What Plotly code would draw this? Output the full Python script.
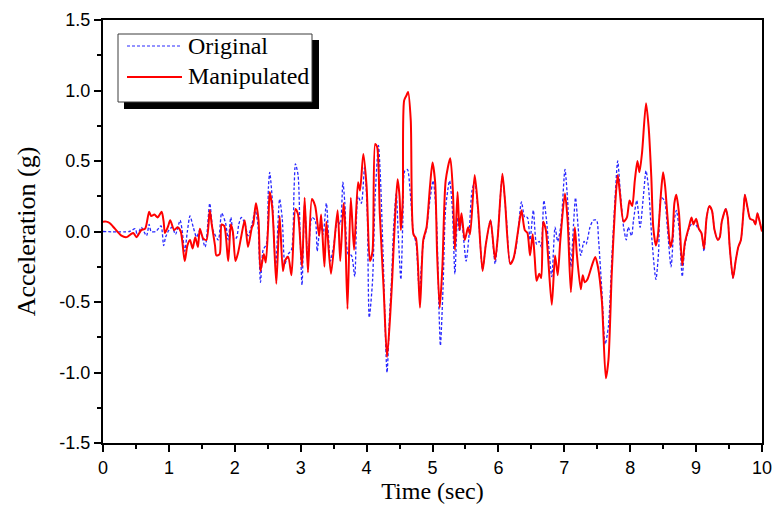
import plotly.graph_objects as go

# ---------------- data ----------------
t_manip = [0.00,0.05,0.10,0.18,0.28,0.36,0.42,0.46,0.51,0.58,0.64,0.70,0.73,0.78,0.83,0.89,0.92,0.94,0.99,1.02,
           1.08,1.13,1.18,1.24,1.28,1.32,1.36,1.40,1.44,1.47,1.52,1.57,1.62,1.65,1.70,1.72,1.77,1.80,1.84,1.90,
           1.94,1.97,2.01,2.05,2.10,2.15,2.20,2.26,2.28,2.32,2.36,2.39,2.44,2.47,2.51,2.53,2.57,2.63,2.68,2.73,
           2.76,2.81,2.86,2.92,2.96,3.02,3.06,3.11,3.17,3.22,3.28,3.31,3.36,3.39,3.46,3.56,3.60,3.65,3.67,3.71,
           3.76,3.81,3.87,3.90,3.95,4.00,4.05,4.09,4.13,4.16,4.20,4.26,4.31,4.36,4.39,4.43,4.47,4.50,4.52,4.55,
           4.57,4.61,4.63,4.67,4.71,4.75,4.81,4.86,4.91,4.96,5.00,5.04,5.07,5.11,5.15,5.20,5.27,5.31,5.34,5.38,
           5.41,5.44,5.49,5.54,5.57,5.64,5.69,5.76,5.81,5.88,5.95,5.99,6.06,6.10,6.18,6.23,6.30,6.35,6.40,6.44,
           6.48,6.52,6.55,6.58,6.62,6.65,6.68,6.72,6.81,6.86,6.90,6.94,7.01,7.05,7.10,7.16,7.19,7.25,7.28,7.31,
           7.35,7.42,7.47,7.51,7.57,7.63,7.67,7.72,7.77,7.81,7.84,7.90,7.95,7.99,8.03,8.07,8.11,8.14,8.18,8.24,
           8.28,8.32,8.35,8.39,8.42,8.47,8.50,8.53,8.57,8.61,8.64,8.67,8.70,8.74,8.79,8.83,8.89,8.93,8.96,9.00,
           9.04,9.08,9.12,9.16,9.20,9.24,9.28,9.33,9.36,9.39,9.45,9.48,9.51,9.56,9.60,9.64,9.68,9.72,9.74,9.78,
           9.82,9.87,9.90,9.93,9.96,10.00]
a_manip = [0.07,0.07,0.06,0.02,-0.03,-0.04,-0.02,-0.01,-0.04,0.01,0.02,0.14,0.11,0.12,0.10,0.14,0.07,-0.01,0.04,0.08,
           0.01,0.03,0.00,-0.21,-0.10,-0.06,-0.12,-0.04,-0.11,0.02,-0.05,-0.06,0.15,0.05,-0.10,-0.17,-0.16,0.05,0.04,-0.21,
           0.05,0.00,-0.21,-0.15,-0.03,0.08,-0.11,0.03,0.05,0.20,0.08,-0.28,-0.16,-0.22,0.08,0.28,0.16,-0.37,0.11,-0.28,
           -0.21,-0.18,-0.31,0.16,0.12,-0.25,0.24,-0.29,0.23,0.18,-0.03,0.12,-0.25,0.07,-0.30,0.15,-0.21,0.20,0.09,-0.55,
           0.24,-0.13,0.35,0.29,0.55,0.32,-0.21,-0.14,0.62,0.60,0.13,-0.42,-0.89,-0.58,-0.32,0.08,0.37,0.25,0.01,0.24,
           0.93,0.97,0.99,0.79,-0.02,-0.05,-0.54,-0.06,0.03,0.31,0.49,0.35,-0.16,-0.54,-0.25,0.36,0.52,0.28,-0.13,0.28,
           0.01,0.13,-0.06,0.03,-0.02,0.40,0.17,-0.28,-0.09,0.08,-0.20,-0.04,0.41,0.22,-0.23,-0.19,0.01,0.15,0.01,-0.01,
           -0.17,-0.02,-0.18,-0.35,-0.30,-0.33,0.07,0.01,-0.52,-0.17,-0.31,-0.06,0.27,0.08,-0.43,0.03,-0.16,-0.41,-0.31,-0.36,
           -0.34,-0.24,-0.18,-0.25,-0.49,-1.04,-0.91,-0.30,0.17,0.40,0.29,0.07,0.10,0.22,0.18,0.36,0.50,0.42,0.56,0.91,
           0.74,0.39,0.03,-0.10,-0.03,0.29,0.42,0.32,0.08,-0.11,-0.05,0.20,0.26,0.13,-0.24,-0.08,0.03,0.10,0.05,0.09,
           0.02,-0.01,-0.12,0.10,0.18,0.15,0.01,-0.06,-0.04,0.07,0.16,0.10,-0.11,-0.33,-0.21,-0.11,-0.06,0.15,0.26,0.17,
           0.09,0.08,0.05,0.13,0.08,0.00]

t_orig = [0.00,0.40,0.49,0.52,0.58,0.66,0.70,0.73,0.80,0.88,0.92,0.95,1.00,1.05,1.10,1.17,1.20,1.24,1.28,1.32,
          1.37,1.42,1.47,1.55,1.62,1.67,1.75,1.80,1.86,1.90,1.94,1.99,2.03,2.06,2.10,2.15,2.20,2.26,2.31,2.35,
          2.39,2.43,2.48,2.51,2.53,2.57,2.62,2.68,2.72,2.76,2.81,2.86,2.90,2.92,2.96,2.99,3.02,3.06,3.11,3.17,
          3.22,3.25,3.30,3.34,3.39,3.45,3.50,3.56,3.60,3.64,3.67,3.72,3.77,3.82,3.87,3.92,3.97,4.01,4.04,4.09,
          4.13,4.18,4.21,4.25,4.31,4.35,4.38,4.41,4.45,4.48,4.52,4.55,4.58,4.62,4.66,4.71,4.75,4.80,4.86,4.91,
          4.96,5.01,5.06,5.10,5.12,5.16,5.20,5.26,5.30,5.34,5.38,5.41,5.44,5.51,5.55,5.60,5.64,5.69,5.76,5.81,
          5.88,5.95,5.99,6.06,6.12,6.18,6.25,6.30,6.35,6.40,6.44,6.48,6.53,6.58,6.62,6.65,6.69,6.73,6.81,6.86,
          6.90,6.95,7.01,7.05,7.10,7.14,7.17,7.21,7.25,7.30,7.33,7.39,7.44,7.49,7.52,7.57,7.62,7.67,7.72,7.77,
          7.81,7.85,7.90,7.94,7.97,8.02,8.05,8.10,8.15,8.20,8.24,8.28,8.33,8.39,8.43,8.47,8.52,8.56,8.62,8.67,
          8.70,8.74,8.79,8.83,8.90,8.96,9.02,9.08,9.12,9.16,9.20,9.24,9.28,9.33,9.36,9.39,9.45,9.48,9.51,9.56,
          9.60,9.64,9.68,9.72,9.74,9.78,9.82,9.87,9.90,9.93,9.96,10.00]
a_orig = [0.00,0.00,0.02,-0.03,0.03,-0.03,0.05,0.00,0.00,0.04,-0.10,-0.04,0.01,0.03,-0.02,0.08,0.01,-0.14,0.00,0.11,
          0.03,-0.04,0.01,-0.11,0.20,0.01,-0.06,0.13,0.06,-0.06,0.10,-0.06,-0.04,0.05,0.10,0.06,-0.03,0.05,0.15,0.05,
          -0.36,-0.13,-0.09,0.31,0.42,0.22,-0.25,0.23,0.09,-0.23,-0.16,-0.13,0.31,0.48,0.40,-0.01,-0.38,0.19,-0.21,0.10,
          0.08,-0.14,0.05,-0.02,0.20,-0.21,-0.10,0.08,0.05,0.35,0.20,-0.16,-0.17,-0.32,0.25,0.20,0.46,0.13,-0.61,-0.35,
          0.25,0.61,0.38,-0.16,-1.00,-0.58,-0.33,0.03,0.27,-0.02,-0.34,0.08,0.43,0.44,0.29,-0.01,-0.08,-0.42,-0.08,0.02,
          0.22,0.36,0.09,-0.58,-0.81,-0.40,0.17,0.36,0.17,-0.30,0.10,0.00,0.08,-0.21,-0.05,0.29,0.35,0.15,-0.27,-0.09,
          0.08,-0.23,-0.04,0.39,0.10,-0.23,-0.16,0.01,0.21,0.10,0.10,-0.06,0.15,-0.09,-0.07,-0.11,0.22,0.08,-0.32,0.03,
          -0.07,0.05,0.44,0.22,-0.25,0.05,0.24,0.03,-0.17,-0.07,-0.09,0.03,0.08,0.08,-0.06,-0.42,-0.80,-0.67,-0.20,0.23,
          0.50,0.28,0.03,-0.06,0.03,-0.03,0.08,0.22,0.03,0.25,0.43,0.30,-0.06,-0.34,-0.15,0.24,0.22,0.05,-0.25,0.08,
          0.15,0.03,-0.32,-0.10,0.03,0.07,0.03,-0.01,-0.14,0.10,0.18,0.15,0.01,-0.06,-0.04,0.07,0.16,0.10,-0.11,-0.33,
          -0.21,-0.11,-0.06,0.15,0.26,0.17,0.09,0.08,0.05,0.13,0.08,0.00]

series_names = ["Original", "Manipulated"]
x_tick_vals = [0, 1, 2, 3, 4, 5, 6, 7, 8, 9, 10]
x_tick_text = ["0", "1", "2", "3", "4", "5", "6", "7", "8", "9", "10"]
y_tick_vals = [1.5, 1.0, 0.5, 0.0, -0.5, -1.0, -1.5]
y_tick_text = ["1.5", "1.0", "0.5", "0.0", "-0.5", "-1.0", "-1.5"]

# ---------------- figure ----------------
W, H = 778, 509
ML, MR, MT, MB = 103, 16, 20, 66
PW, PH = W - ML - MR, H - MT - MB

BLUE = "rgb(40,40,255)"
RED = "rgb(255,0,0)"
SERIF = "Times New Roman, Liberation Serif, serif"
SANS = "Liberation Sans Narrow, Arial Narrow, Liberation Sans, Arial, sans-serif"

fig = go.Figure()
fig.add_trace(go.Scatter(x=t_orig, y=a_orig, mode="lines", name=series_names[0],
                         line=dict(color=BLUE, width=1.3, dash="3px,2px", shape="spline", smoothing=0.7)))
fig.add_trace(go.Scatter(x=t_manip, y=a_manip, mode="lines", name=series_names[1],
                         line=dict(color=RED, width=2, shape="spline", smoothing=0.7)))

def px_x(p):
    return (p - ML) / PW

def px_y(p):
    return (H - MB - p) / PH

shapes = []
# legend shadow and box
shapes.append(dict(type="rect", xref="paper", yref="paper",
                   x0=px_x(124), x1=px_x(319), y0=px_y(109), y1=px_y(40),
                   fillcolor="black", line=dict(width=0), layer="above"))
shapes.append(dict(type="rect", xref="paper", yref="paper",
                   x0=px_x(118), x1=px_x(312), y0=px_y(102), y1=px_y(34),
                   fillcolor="white", line=dict(color="rgb(60,60,60)", width=1), layer="above"))
shapes.append(dict(type="line", xref="paper", yref="paper",
                   x0=px_x(127), x1=px_x(182), y0=px_y(46), y1=px_y(46),
                   line=dict(color=BLUE, width=1.2, dash="3px,2px"), layer="above"))
shapes.append(dict(type="line", xref="paper", yref="paper",
                   x0=px_x(127), x1=px_x(182), y0=px_y(77), y1=px_y(77),
                   line=dict(color=RED, width=2), layer="above"))

annotations = [
    dict(xref="paper", yref="paper", x=px_x(186), y=px_y(46), text=series_names[0],
         showarrow=False, xanchor="left", yanchor="middle", font=dict(family=SERIF, size=24, color="black")),
    dict(xref="paper", yref="paper", x=px_x(186), y=px_y(76), text=series_names[1],
         showarrow=False, xanchor="left", yanchor="middle", font=dict(family=SERIF, size=24, color="black")),
]

fig.update_layout(
    width=W, height=H,
    margin=dict(l=ML, r=MR, t=MT, b=MB, autoexpand=False),
    paper_bgcolor="white", plot_bgcolor="white",
    showlegend=False,
    shapes=shapes, annotations=annotations,
    font=dict(family=SANS, size=17, color="black"),
)
fig.update_xaxes(
    range=[0, 10], tickmode="array", tickvals=x_tick_vals, ticktext=x_tick_text,
    ticks="outside", ticklen=7, tickwidth=2, tickcolor="black",
    minor=dict(ticks="outside", ticklen=4, tickwidth=2, dtick=0.5, tickcolor="black"),
    showline=True, linewidth=2, linecolor="black", mirror=True,
    showgrid=False, zeroline=False,
    tickfont=dict(family=SANS, size=18),
    title=dict(text="Time (sec)", font=dict(family=SERIF, size=24), standoff=6),
)
fig.update_yaxes(
    range=[-1.5, 1.5], tickmode="array", tickvals=y_tick_vals, ticktext=y_tick_text,
    ticks="outside", ticklen=7, tickwidth=2, tickcolor="black",
    minor=dict(ticks="outside", ticklen=4, tickwidth=2, dtick=0.25, tick0=0, tickcolor="black"),
    showline=True, linewidth=2, linecolor="black", mirror=True,
    showgrid=False, zeroline=False,
    tickfont=dict(family=SANS, size=18),
    title=dict(text="Acceleration (g)", font=dict(family=SERIF, size=26), standoff=16),
)

fig.write_html("out.html")
